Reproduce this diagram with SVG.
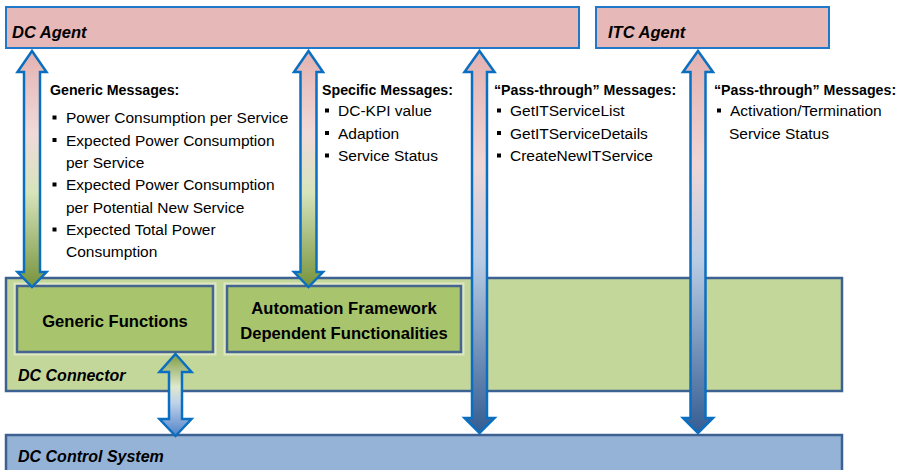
<svg xmlns="http://www.w3.org/2000/svg" width="904" height="470" viewBox="0 0 904 470">
  <defs>
    <style>
      .txt { font-family: "Liberation Sans", Arial, sans-serif; fill: #000; }
      .title { font-size: 16.5px; font-weight: bold; font-style: italic; }
      .layer { font-size: 16px; font-weight: bold; font-style: italic; }
      .head { font-size: 14.2px; font-weight: bold; }
      .item { font-size: 15.5px; }
      .fn { font-size: 16.6px; font-weight: bold; text-anchor: middle; }
      .agent { fill: #e6b8b7; stroke: #1f78c8; stroke-width: 2; }
      .layerbox { stroke: #3d6190; stroke-width: 2.5; }
      .fnbox { fill: #a8c46c; stroke: #45648f; stroke-width: 2.5; }
      .arrow { stroke: #0b6fc1; stroke-width: 2.5; stroke-linejoin: miter; }
      .bullet { fill: #000; }
    </style>
    <linearGradient id="gPinkGreen" x1="0" y1="0" x2="0" y2="1">
      <stop offset="0" stop-color="#e3b2b1"/>
      <stop offset="0.35" stop-color="#f0dad9"/>
      <stop offset="0.6" stop-color="#d6e4bb"/>
      <stop offset="1" stop-color="#77933c"/>
    </linearGradient>
    <linearGradient id="gPinkBlue" x1="0" y1="0" x2="0" y2="1">
      <stop offset="0" stop-color="#e3b2b1"/>
      <stop offset="0.3" stop-color="#efd6d6"/>
      <stop offset="0.55" stop-color="#b8cbe3"/>
      <stop offset="1" stop-color="#345d92"/>
    </linearGradient>
    <linearGradient id="gGreenBlue" x1="0" y1="0" x2="0" y2="1">
      <stop offset="0" stop-color="#7f9c44"/>
      <stop offset="0.4" stop-color="#dfe9cc"/>
      <stop offset="0.6" stop-color="#bfd1ea"/>
      <stop offset="1" stop-color="#4f82c8"/>
    </linearGradient>
  </defs>

  <!-- Agents -->
  <g id="dc-agent">
    <rect class="agent" x="6" y="7" width="573" height="41"/>
    <text class="txt title" x="12" y="38">DC Agent</text>
  </g>
  <g id="itc-agent">
    <rect class="agent" x="596" y="7" width="233" height="41"/>
    <text class="txt title" x="608" y="38">ITC Agent</text>
  </g>

  <!-- DC Connector layer with its function blocks -->
  <g id="dc-connector">
    <rect class="layerbox" x="6" y="278" width="836" height="113" fill="#c4d79b"/>
    <text class="txt layer" x="18" y="381">DC Connector</text>
  </g>
  <g id="generic-functions">
    <rect x="15" y="284" width="200" height="70" fill="none" stroke="#dde8c2" stroke-width="3"/>
    <rect class="fnbox" x="17" y="286" width="196" height="66"/>
    <text class="txt fn" x="115" y="327">Generic Functions</text>
  </g>
  <g id="automation-framework">
    <rect x="225" y="284" width="238" height="70" fill="none" stroke="#dde8c2" stroke-width="3"/>
    <rect class="fnbox" x="227" y="286" width="234" height="66"/>
    <text class="txt fn" x="344" y="314">Automation Framework</text>
    <text class="txt fn" x="344" y="339">Dependent Functionalities</text>
  </g>

  <!-- DC Control System layer -->
  <g id="dc-control-system">
    <rect class="layerbox" x="6" y="435" width="836" height="40" fill="#95b3d7"/>
    <text class="txt layer" x="18" y="462">DC Control System</text>
  </g>

  <!-- Message lists -->
  <g id="generic-messages">
    <text class="txt head" x="50" y="95">Generic Messages:</text>
    <rect class="bullet" x="52.5" y="115.5" width="4" height="4"/>
    <text class="txt item" x="66" y="123">Power Consumption per Service</text>
    <rect class="bullet" x="52.5" y="138" width="4" height="4"/>
    <text class="txt item" x="66" y="146">Expected Power Consumption</text>
    <text class="txt item" x="66" y="168">per Service</text>
    <rect class="bullet" x="52.5" y="182.5" width="4" height="4"/>
    <text class="txt item" x="66" y="190">Expected Power Consumption</text>
    <text class="txt item" x="66" y="213">per Potential New Service</text>
    <rect class="bullet" x="52.5" y="227.5" width="4" height="4"/>
    <text class="txt item" x="66" y="235">Expected Total Power</text>
    <text class="txt item" x="66" y="257">Consumption</text>
  </g>
  <g id="specific-messages">
    <text class="txt head" x="322" y="95">Specific Messages:</text>
    <rect class="bullet" x="325" y="108.5" width="4" height="4"/>
    <text class="txt item" x="338" y="116">DC-KPI value</text>
    <rect class="bullet" x="325" y="131" width="4" height="4"/>
    <text class="txt item" x="338" y="138.5">Adaption</text>
    <rect class="bullet" x="325" y="153.5" width="4" height="4"/>
    <text class="txt item" x="338" y="161">Service Status</text>
  </g>
  <g id="passthrough-dc-messages">
    <text class="txt head" x="494" y="95">“Pass-through”  Messages:</text>
    <rect class="bullet" x="497" y="108.5" width="4" height="4"/>
    <text class="txt item" x="510" y="116">GetITServiceList</text>
    <rect class="bullet" x="497" y="131" width="4" height="4"/>
    <text class="txt item" x="510" y="138.5">GetITServiceDetails</text>
    <rect class="bullet" x="497" y="153.5" width="4" height="4"/>
    <text class="txt item" x="510" y="161">CreateNewITService</text>
  </g>
  <g id="passthrough-itc-messages">
    <text class="txt head" x="714" y="95">“Pass-through”  Messages:</text>
    <rect class="bullet" x="717" y="108.5" width="4" height="4"/>
    <text class="txt item" x="730" y="116">Activation/Termination</text>
    <text class="txt item" x="729" y="138.5">Service Status</text>
  </g>

  <!-- Connectors: double-headed block arrows -->
  <g id="connectors">
    <path class="arrow" fill="url(#gPinkGreen)" d="M32,51 L46.5,72 L40,72 L40,272 L46.5,272 L32,287 L17.5,272 L24,272 L24,72 L17.5,72 Z"/>
    <path class="arrow" fill="url(#gPinkGreen)" d="M308.5,51 L323,72 L316.5,72 L316.5,272 L323,272 L308.5,287 L294,272 L300.5,272 L300.5,72 L294,72 Z"/>
    <path class="arrow" fill="url(#gPinkBlue)" d="M479.5,51 L494.5,72 L487,72 L487,418 L494.5,418 L479.5,433 L464.5,418 L472,418 L472,72 L464.5,72 Z"/>
    <path class="arrow" fill="url(#gPinkBlue)" d="M698,51 L713,72 L705.5,72 L705.5,418 L713,418 L698,433 L683,418 L690.5,418 L690.5,72 L683,72 Z"/>
    <path class="arrow" fill="url(#gGreenBlue)" d="M175.5,354 L191.5,372 L182,372 L182,419 L191.5,419 L175.5,436 L159.5,419 L169,419 L169,372 L159.5,372 Z"/>
  </g>
</svg>
